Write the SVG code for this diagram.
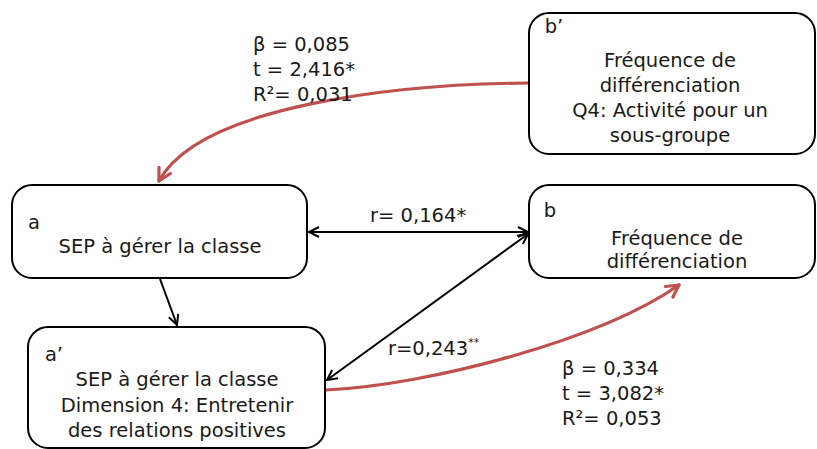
<svg xmlns="http://www.w3.org/2000/svg" width="817" height="449" viewBox="0 0 817 449">
<style>
.box{fill:#fff;stroke:#000;stroke-width:2}
.t{font-family:"DejaVu Sans","Open Sans",sans-serif;font-size:19.5px;fill:#1a1a1a}
.c{text-anchor:middle}
.blk{fill:none;stroke:#000;stroke-width:2}
.red{fill:none;stroke:#c0504d;stroke-width:3.2;stroke-linecap:round}
</style>
<defs>
<marker id="ab" markerUnits="userSpaceOnUse" markerWidth="14" markerHeight="14" refX="11" refY="6" orient="auto-start-reverse" viewBox="0 0 14 12">
<path d="M1,1 L11,6 L1,11" fill="none" stroke="#000" stroke-width="2"/>
</marker>
<marker id="ar" markerUnits="userSpaceOnUse" markerWidth="18" markerHeight="18" refX="14" refY="8" orient="auto" viewBox="0 0 18 16">
<path d="M2,1.5 L14,8 L2,14.5" fill="none" stroke="#c0504d" stroke-width="3.2" stroke-linecap="round" stroke-linejoin="round"/>
</marker>
</defs>
<rect width="817" height="449" fill="#fff"/>
<g id="connectors">
<line class="blk" x1="309" y1="232" x2="528" y2="232" marker-start="url(#ab)" marker-end="url(#ab)"/>
<line class="blk" x1="327" y1="380" x2="528" y2="234" marker-start="url(#ab)" marker-end="url(#ab)"/>
<line class="blk" x1="160" y1="279" x2="177" y2="325" marker-end="url(#ab)"/>
<path class="red" d="M528,83 C400,84 200,105 159,181" marker-end="url(#ar)"/>
<path class="red" d="M326,390 C430,385 600,340 679,285" marker-end="url(#ar)"/>
</g>
<g id="node-b-prime">
<rect class="box" x="529" y="13" width="286" height="141" rx="20"/>
<text class="t c"><tspan x="554" y="33">b’</tspan><tspan x="670" y="67">Fréquence de</tspan><tspan x="670" y="92">différenciation</tspan><tspan x="670" y="117">Q4: Activité pour un</tspan><tspan x="670" y="142">sous-groupe</tspan></text>
</g>
<g id="node-a">
<rect class="box" x="12" y="185" width="295" height="93" rx="20"/>
<text class="t c"><tspan x="34" y="229">a</tspan><tspan x="160" y="253">SEP à gérer la classe</tspan></text>
</g>
<g id="node-b">
<rect class="box" x="529" y="185" width="286" height="93" rx="20"/>
<text class="t c"><tspan x="550" y="217">b</tspan><tspan x="677" y="245">Fréquence de</tspan><tspan x="677" y="268">différenciation</tspan></text>
</g>
<g id="node-a-prime">
<rect class="box" x="28" y="327" width="297" height="121" rx="20"/>
<text class="t c"><tspan x="54" y="361">a’</tspan><tspan x="177" y="386">SEP à gérer la classe</tspan><tspan x="177" y="412">Dimension 4: Entretenir</tspan><tspan x="177" y="437">des relations positives</tspan></text>
</g>
<g id="labels">
<text class="t"><tspan x="253" y="51">β = 0,085</tspan><tspan x="253" y="76">t = 2,416*</tspan><tspan x="253" y="101">R²= 0,031</tspan></text>
<text class="t" x="370" y="222">r= 0,164*</text>
<text class="t" x="388" y="355">r=0,243<tspan font-size="11" dy="-9">**</tspan></text>
<text class="t"><tspan x="562" y="375">β = 0,334</tspan><tspan x="562" y="400">t = 3,082*</tspan><tspan x="562" y="425">R²= 0,053</tspan></text>
</g>
</svg>
